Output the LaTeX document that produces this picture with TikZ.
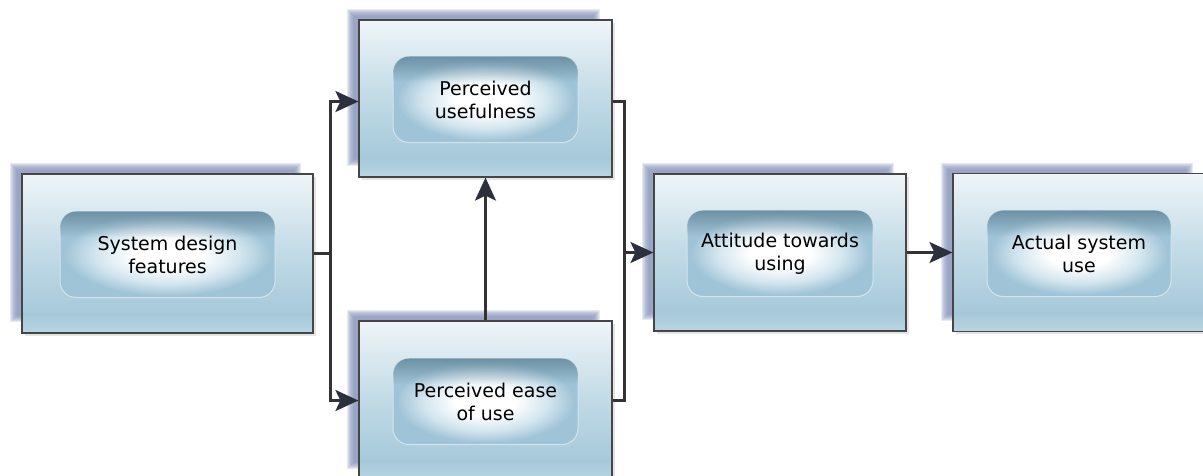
\documentclass[tikz,border=0pt]{standalone}
\usepackage{fontspec}
\setmainfont{DejaVu Sans}
\usetikzlibrary{arrows.meta,fadings,calc}

% palette
\definecolor{ob1}{HTML}{EFF5F8}
\definecolor{ob2}{HTML}{C4DCE7}
\definecolor{ob3}{HTML}{A6C9DA}
\definecolor{ob4}{HTML}{B9D5E1}
\definecolor{ib1}{HTML}{A0C4D7}
\definecolor{ib2}{HTML}{D2E5EE}
\definecolor{innertop}{HTML}{5F8397}
\definecolor{shadowc}{HTML}{8794BA}
\definecolor{framec}{HTML}{464646}
\definecolor{linec}{HTML}{333333}
\definecolor{headc}{HTML}{2B303C}

\pgfdeclareverticalshading{outergrad}{100bp}{color(0bp)=(ob4); color(25bp)=(ob4); color(31bp)=(ob3); color(52bp)=(ob2); color(75bp)=(ob1); color(100bp)=(ob1)}
\pgfdeclareradialshading{innerglow}{\pgfpoint{0bp}{0bp}}{color(0bp)=(white); color(8bp)=(white); color(17bp)=(ib2); color(24bp)=(ib1); color(50bp)=(ib1)}
% dark band along the top edge of the label boxes
\pgfdeclareverticalshading{topshadeshape}{100bp}{color(0bp)=(black); color(60bp)=(black); color(75bp)=(white); color(100bp)=(white)}
\pgfdeclarefading{topshade}{\pgfuseshading{topshadeshape}}

\tikzset{
  outerbox/.style={rectangle, draw=framec, line width=1.2pt, shading=outergrad, inner sep=0pt},
  innerbox/.style={rectangle, rounded corners=16pt, draw=ib2, line width=1pt,
    shading=innerglow, minimum height=86pt, inner sep=0pt, align=center,
    font=\fontsize{19}{23}\selectfont, text=black,
    postaction={fill=innertop, path fading=topshade, fill opacity=.8}},
  conn/.style={draw=linec, line width=2.5pt, line join=miter},
  arrow/.style={conn, -{Stealth[length=23pt, width=21pt, inset=5pt, color=headc]}},
}

% one block: soft drop shadow, gradient frame, rounded glowing label box
% #1 name, #2 cx, #3 cy, #4 width, #5 height, #6 label width, #7 label
\newcommand\tamunit[7]{%
  \begin{scope}[shift={(#2-12,#3-11)}]
    \foreach \i in {0,...,7}
      \fill[shadowc, opacity=.2] (-#4/2+\i,-#5/2+\i) rectangle (#4/2-\i,#5/2-\i);
  \end{scope}
  \fill[black, opacity=.10] (#2-#4/2+3,#3-#5/2+3) rectangle (#2+#4/2+2.5,#3+#5/2+2.5);
  \node[outerbox, minimum width=#4pt, minimum height=#5pt] (#1) at (#2,#3) {};
  \node[innerbox, minimum width=#6pt] (#1-in) at (#2,#3+1) {#7};
}

\begin{document}
\begin{tikzpicture}[x=1pt, y=-1pt]
  \useasboundingbox (0,0) rectangle (1203,475);
  \clip (0,0) rectangle (1203,475);
  \fill[white] (0,0) rectangle (1203,475);

  \tamunit{sdf}{167.5}{253.5}{291}{159}{215}{System design\\features}
  \tamunit{pu}{485.5}{98.5}{253}{157}{185}{Perceived\\usefulness}
  \tamunit{peou}{485.5}{400.5}{253}{159}{185}{Perceived ease\\of use}
  \tamunit{att}{780}{252.5}{252}{157}{186}{Attitude towards\\using}
  \tamunit{asu}{1079}{252.5}{252}{158}{184}{Actual system\\use}

  % connectors
  \path (sdf.east) ++(17,0) coordinate (split);
  \path (att.west) ++(-29,0) coordinate (join);
  \draw[conn] (sdf.east) -- (split);
  \draw[arrow] (split) |- ([yshift=-3pt]pu.west);
  \draw[arrow] (split) |- (peou.west);
  \draw[arrow] (peou.north) -- (pu.south);
  \draw[conn] ([yshift=-3pt]pu.east) -| (join) |- (peou.east);
  \draw[arrow] (join) -- (att.west);
  \draw[arrow] (att.east) -- (asu.west);
\end{tikzpicture}
\end{document}
